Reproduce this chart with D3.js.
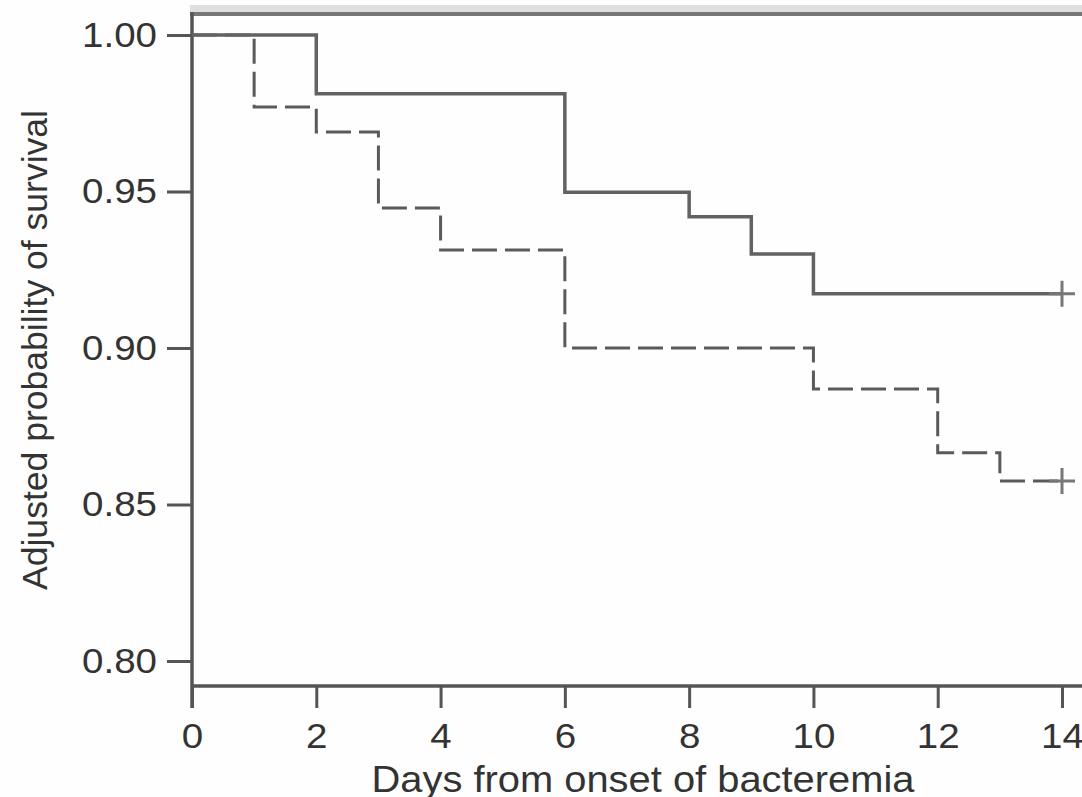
<!DOCTYPE html>
<html lang="en">
<head>
  <meta charset="UTF-8">
  <title>Adjusted survival</title>
  <script src="https://d3js.org/d3.v7.min.js"></script>
  <style>
    html, body { margin: 0; padding: 0; background: #fefefe; }
    svg text { font-family: "Liberation Sans", Arial, sans-serif; fill: #333; }
  </style>
</head>
<body>
  <div id="chart"></div>

  <script>
    // survival curves (step functions)
    const solidDays = [0, 2, 6, 8, 9, 10, 14];
    const solidSurv = [1.000, 0.9812, 0.9498, 0.9419, 0.930, 0.9173, 0.9173];
    const dashedDays = [0, 1, 2, 3, 4, 6, 10, 12, 13, 14];
    const dashedSurv = [1.000, 0.977, 0.969, 0.9447, 0.9313, 0.900, 0.8869, 0.8665, 0.8575, 0.8575];

    const xTicks = [0, 2, 4, 6, 8, 10, 12, 14];
    const yTicks = [0.80, 0.85, 0.90, 0.95, 1.00];
    const xTitle = "Days from onset of bacteremia";
    const yTitle = "Adjusted probability of survival";

    const W = 1082, H = 797;
    const left = 192, axisY = 686, topY = 14;
    const stretch = 1.1;

    const svg = d3.select("#chart").append("svg")
      .attr("width", W)
      .attr("height", H);

    const x = d3.scaleLinear().domain([0, 14]).range([left, 1062]);
    const y = d3.scaleLinear().domain([0.80, 1.00]).range([661, 35]);

    // faint band above the frame
    svg.append("rect")
      .attr("x", 190).attr("y", 5)
      .attr("width", W - 190).attr("height", 7)
      .attr("fill", "#dfdfdf");

    // top frame line
    svg.append("line")
      .attr("x1", left - 2).attr("x2", W + 10)
      .attr("y1", topY).attr("y2", topY)
      .attr("stroke", "#777").attr("stroke-width", 4);

    // y axis
    const yAxis = svg.append("g")
      .attr("transform", `translate(${left},0)`)
      .call(d3.axisLeft(y).tickValues(yTicks).tickSize(25).tickFormat(d3.format(".2f")));
    yAxis.select(".domain").remove();
    yAxis.selectAll(".tick line").attr("stroke", "#555").attr("stroke-width", 3);
    yAxis.selectAll(".tick text")
      .attr("x", -35 / stretch)
      .attr("transform", `scale(${stretch},1)`)
      .attr("font-size", 35)
      .style("fill", "#333");

    // x axis
    const xAxis = svg.append("g")
      .attr("transform", `translate(0,${axisY})`)
      .call(d3.axisBottom(x).tickValues(xTicks).tickSize(22).tickPadding(15).tickFormat(d3.format("d")));
    xAxis.select(".domain").remove();
    xAxis.selectAll(".tick line").attr("stroke", "#555").attr("stroke-width", 3);
    xAxis.selectAll(".tick text")
      .attr("transform", `scale(${stretch},1)`)
      .attr("font-size", 35)
      .style("fill", "#333");

    // axis lines
    svg.append("line")
      .attr("x1", left).attr("x2", left)
      .attr("y1", topY - 2).attr("y2", axisY + 22)
      .attr("stroke", "#555").attr("stroke-width", 3.5);
    svg.append("line")
      .attr("x1", left).attr("x2", W + 10)
      .attr("y1", axisY).attr("y2", axisY)
      .attr("stroke", "#555").attr("stroke-width", 3.5);

    const step = d3.line()
      .x(d => x(d[0]))
      .y(d => y(d[1]))
      .curve(d3.curveStepAfter);

    const solid = solidDays.map((d, i) => [d, solidSurv[i]]);
    const dashed = dashedDays.map((d, i) => [d, dashedSurv[i]]);

    svg.append("path")
      .datum(dashed)
      .attr("d", step)
      .attr("fill", "none")
      .attr("stroke", "#5a5a5a")
      .attr("stroke-width", 3)
      .attr("stroke-dasharray", "25,8");

    svg.append("path")
      .datum(solid)
      .attr("d", step)
      .attr("fill", "none")
      .attr("stroke", "#626262")
      .attr("stroke-width", 3.5);

    // censoring marks at the end of each curve
    const ends = [solid[solid.length - 1], dashed[dashed.length - 1]];
    ends.forEach(d => {
      const cx = x(d[0]), cy = y(d[1]);
      svg.append("path")
        .attr("d", `M${cx - 13},${cy}H${cx + 13}M${cx},${cy - 13}V${cy + 13}`)
        .attr("stroke", "#777")
        .attr("stroke-width", 3)
        .attr("fill", "none");
    });

    // titles
    svg.append("text")
      .attr("x", 643)
      .attr("y", 792)
      .attr("text-anchor", "middle")
      .attr("font-size", 36)
      .attr("textLength", 543)
      .attr("lengthAdjust", "spacingAndGlyphs")
      .text(xTitle);

    svg.append("text")
      .attr("transform", "translate(47,350) rotate(-90)")
      .attr("text-anchor", "middle")
      .attr("font-size", 35)
      .attr("textLength", 480)
      .attr("lengthAdjust", "spacingAndGlyphs")
      .text(yTitle);
  </script>
</body>
</html>
